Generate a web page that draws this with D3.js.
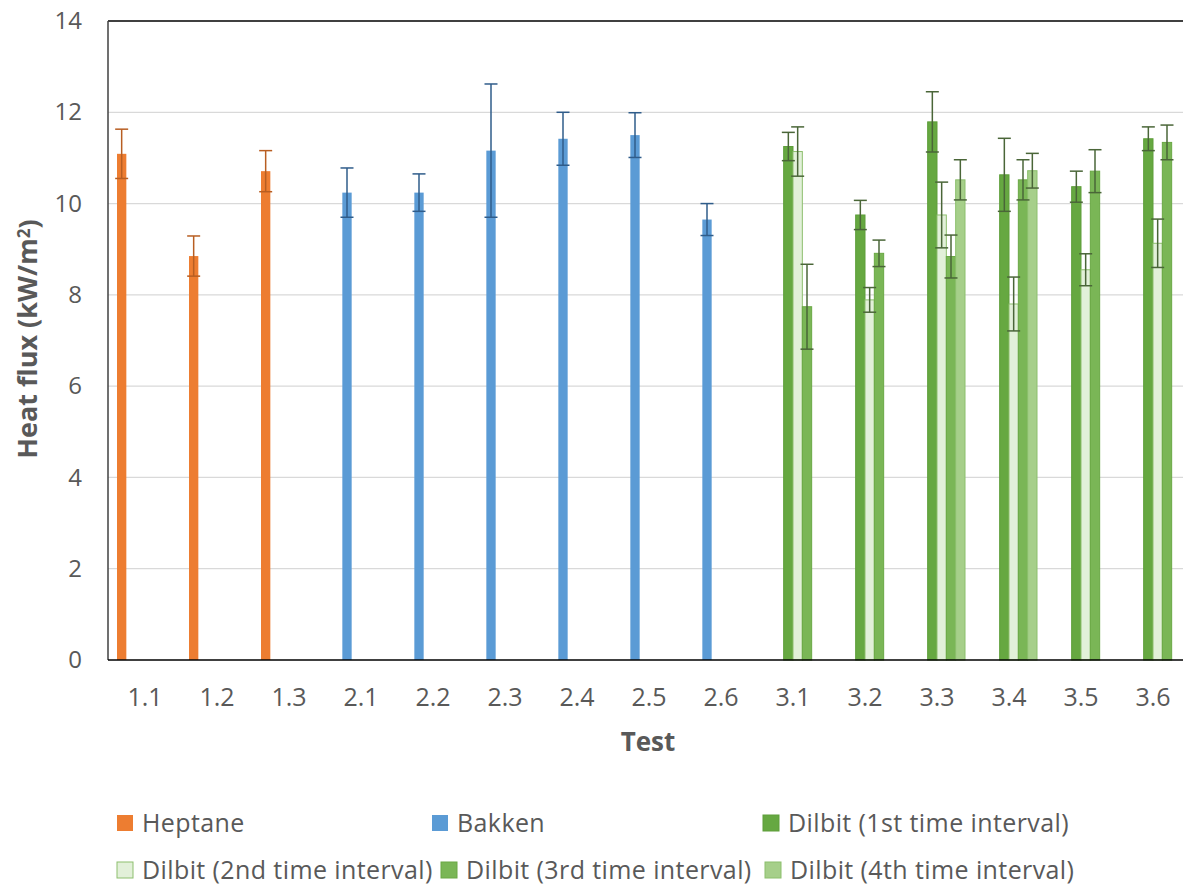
<!DOCTYPE html>
<html>
<head>
<meta charset="utf-8">
<script src="https://cdn.jsdelivr.net/npm/d3@7"></script>
<style>
  html, body { margin: 0; padding: 0; background: #fff; }
  svg { display: block; font-family: "Open Sans", sans-serif; }
</style>
</head>
<body>
<svg id="chart" width="1183" height="888"></svg>
<script>
// ---- data ----
const categories = ["1.1","1.2","1.3","2.1","2.2","2.3","2.4","2.5","2.6","3.1","3.2","3.3","3.4","3.5","3.6"];
const yTicks = [0, 2, 4, 6, 8, 10, 12, 14];
const seriesNames = ["Heptane", "Bakken", "Dilbit (1st time interval)", "Dilbit (2nd time interval)", "Dilbit (3rd time interval)", "Dilbit (4th time interval)"];
const N = null;
const heptane    = [11.09, 8.85, 10.71, N, N, N, N, N, N, N, N, N, N, N, N];
const heptaneErr = [0.54, 0.44, 0.45, N, N, N, N, N, N, N, N, N, N, N, N];
const bakken     = [N, N, N, 10.24, 10.24, 11.16, 11.42, 11.50, 9.65, N, N, N, N, N, N];
const bakkenErr  = [N, N, N, 0.54, 0.41, 1.46, 0.58, 0.49, 0.35, N, N, N, N, N, N];
const dilbit1    = [N, N, N, N, N, N, N, N, N, 11.25, 9.75, 11.79, 10.63, 10.37, 11.42];
const dilbit1Err = [N, N, N, N, N, N, N, N, N, 0.31, 0.32, 0.66, 0.80, 0.34, 0.26];
const dilbit2    = [N, N, N, N, N, N, N, N, N, 11.14, 7.89, 9.75, 7.80, 8.55, 9.13];
const dilbit2Err = [N, N, N, N, N, N, N, N, N, 0.54, 0.27, 0.72, 0.59, 0.35, 0.53];
const dilbit3    = [N, N, N, N, N, N, N, N, N, 7.74, 8.91, 8.84, 10.52, 10.71, 11.34];
const dilbit3Err = [N, N, N, N, N, N, N, N, N, 0.93, 0.29, 0.47, 0.44, 0.47, 0.38];
const dilbit4    = [N, N, N, N, N, N, N, N, N, N, N, 10.52, 10.72, N, N];
const dilbit4Err = [N, N, N, N, N, N, N, N, N, N, N, 0.44, 0.38, N, N];

// ---- styles ----
const styles = [
  { fill: "#ED7D31", stroke: "none",    err: "#B85E22" },
  { fill: "#5B9BD5", stroke: "none",    err: "#2F5C8A" },
  { fill: "#66A841", stroke: "#5E9E3A", err: "#4A6638" },
  { fill: "#E2F0D9", stroke: "#8DBF6E", err: "#4A6638" },
  { fill: "#7AB656", stroke: "#6AA845", err: "#4A6638" },
  { fill: "#A6CF8A", stroke: "#8CBF6C", err: "#4A6638" }
];
const seriesVals = [heptane, bakken, dilbit1, dilbit2, dilbit3, dilbit4];
const seriesErrs = [heptaneErr, bakkenErr, dilbit1Err, dilbit2Err, dilbit3Err, dilbit4Err];

const svg = d3.select("#chart");
const plot = { left: 108, top: 21, right: 1189, bottom: 660 };
const textColor = "#595959";

const x = d3.scaleBand().domain(categories).range([109, 1189]);
const xs = d3.scaleBand().domain(seriesNames).range([8, 64]);
const y = d3.scaleLinear().domain([0, 14]).range([plot.bottom, plot.top]);

// gridlines
svg.append("g").selectAll("line")
  .data(yTicks.filter(t => t > 0 && t < 14))
  .join("line")
  .attr("x1", plot.left).attr("x2", plot.right)
  .attr("y1", d => y(d)).attr("y2", d => y(d))
  .attr("stroke", "#D9D9D9").attr("stroke-width", 1.2);

// bars
seriesVals.forEach((vals, si) => {
  const st = styles[si];
  const data = categories.map((c, i) => ({ c, v: vals[i], e: seriesErrs[si][i] })).filter(d => d.v !== null);
  svg.append("g").selectAll("rect")
    .data(data).join("rect")
    .attr("x", d => x(d.c) + xs(seriesNames[si]))
    .attr("width", xs.bandwidth())
    .attr("y", d => y(d.v))
    .attr("height", d => y(0) - y(d.v))
    .attr("fill", st.fill)
    .attr("stroke", st.stroke)
    .attr("stroke-width", st.stroke === "none" ? 0 : 1);
});

// error bars
seriesVals.forEach((vals, si) => {
  const st = styles[si];
  const data = categories.map((c, i) => ({ c, v: vals[i], e: seriesErrs[si][i] })).filter(d => d.v !== null);
  const g = svg.append("g").attr("stroke", st.err).attr("stroke-width", 1.5).attr("fill", "none");
  const cx = d => x(d.c) + xs(seriesNames[si]) + xs.bandwidth() / 2;
  g.selectAll("line.v").data(data).join("line").attr("class", "v")
    .attr("x1", cx).attr("x2", cx)
    .attr("y1", d => y(d.v + d.e)).attr("y2", d => y(d.v - d.e));
  g.selectAll("line.t").data(data).join("line").attr("class", "t")
    .attr("x1", d => cx(d) - 6.5).attr("x2", d => cx(d) + 6.5)
    .attr("y1", d => y(d.v + d.e)).attr("y2", d => y(d.v + d.e));
  g.selectAll("line.b").data(data).join("line").attr("class", "b")
    .attr("x1", d => cx(d) - 6.5).attr("x2", d => cx(d) + 6.5)
    .attr("y1", d => y(d.v - d.e)).attr("y2", d => y(d.v - d.e));
});

// plot border: top & left
svg.append("line").attr("x1", plot.left).attr("x2", plot.right + 5)
  .attr("y1", plot.top).attr("y2", plot.top).attr("stroke", "#404040").attr("stroke-width", 2);
svg.append("line").attr("x1", plot.left).attr("x2", plot.left)
  .attr("y1", plot.top).attr("y2", plot.bottom).attr("stroke", "#404040").attr("stroke-width", 1.5);

// y axis
const yAxis = svg.append("g").attr("transform", `translate(${plot.left},0)`)
  .call(d3.axisLeft(y).tickValues(yTicks).tickSize(0).tickPadding(26));
yAxis.select(".domain").remove();
yAxis.selectAll("text").attr("fill", textColor).style("font-size", "24px").style("font-family", "Open Sans");

// x axis
const xAxis = svg.append("g").attr("transform", `translate(0,${plot.bottom})`)
  .call(d3.axisBottom(x).tickSize(0));
xAxis.select(".domain").attr("stroke", "#000").attr("stroke-width", 1.5)
  .attr("d", `M${plot.left},0H${plot.right + 5}`);
xAxis.selectAll("text").attr("fill", textColor).attr("y", 37).attr("dy", "0.35em")
  .style("font-size", "25px").style("font-family", "Open Sans");

// axis titles
svg.append("text").attr("x", 648).attr("y", 742).attr("dy", "0.35em")
  .attr("text-anchor", "middle").attr("fill", textColor)
  .style("font-size", "26px").style("font-weight", "bold").text("Test");

const yt = svg.append("text").attr("transform", "translate(28,339) rotate(-90)")
  .attr("dy", "0.35em").attr("text-anchor", "middle").attr("fill", textColor)
  .style("font-size", "27px").style("font-weight", "bold");
yt.append("tspan").text("Heat flux (kW/m");
yt.append("tspan").text("2").attr("dy", "-0.45em").style("font-size", "17px");
yt.append("tspan").text(")").attr("dy", "0.3em");

// legend
const legendPos = [[117, 823], [432, 823], [763, 823], [117, 870], [441, 870], [765, 870]];
const lg = svg.append("g").selectAll("g").data(seriesNames).join("g")
  .attr("transform", (d, i) => `translate(${legendPos[i][0]},${legendPos[i][1]})`);
lg.append("rect").attr("x", 0).attr("y", -8).attr("width", 16).attr("height", 16)
  .attr("fill", (d, i) => styles[i].fill)
  .attr("stroke", (d, i) => styles[i].stroke)
  .attr("stroke-width", (d, i) => styles[i].stroke === "none" ? 0 : 1);
lg.append("text").attr("x", 25).attr("dy", "0.35em").attr("fill", textColor)
  .style("font-size", "25px").style("letter-spacing", "0.4px").text(d => d);
</script>
</body>
</html>
